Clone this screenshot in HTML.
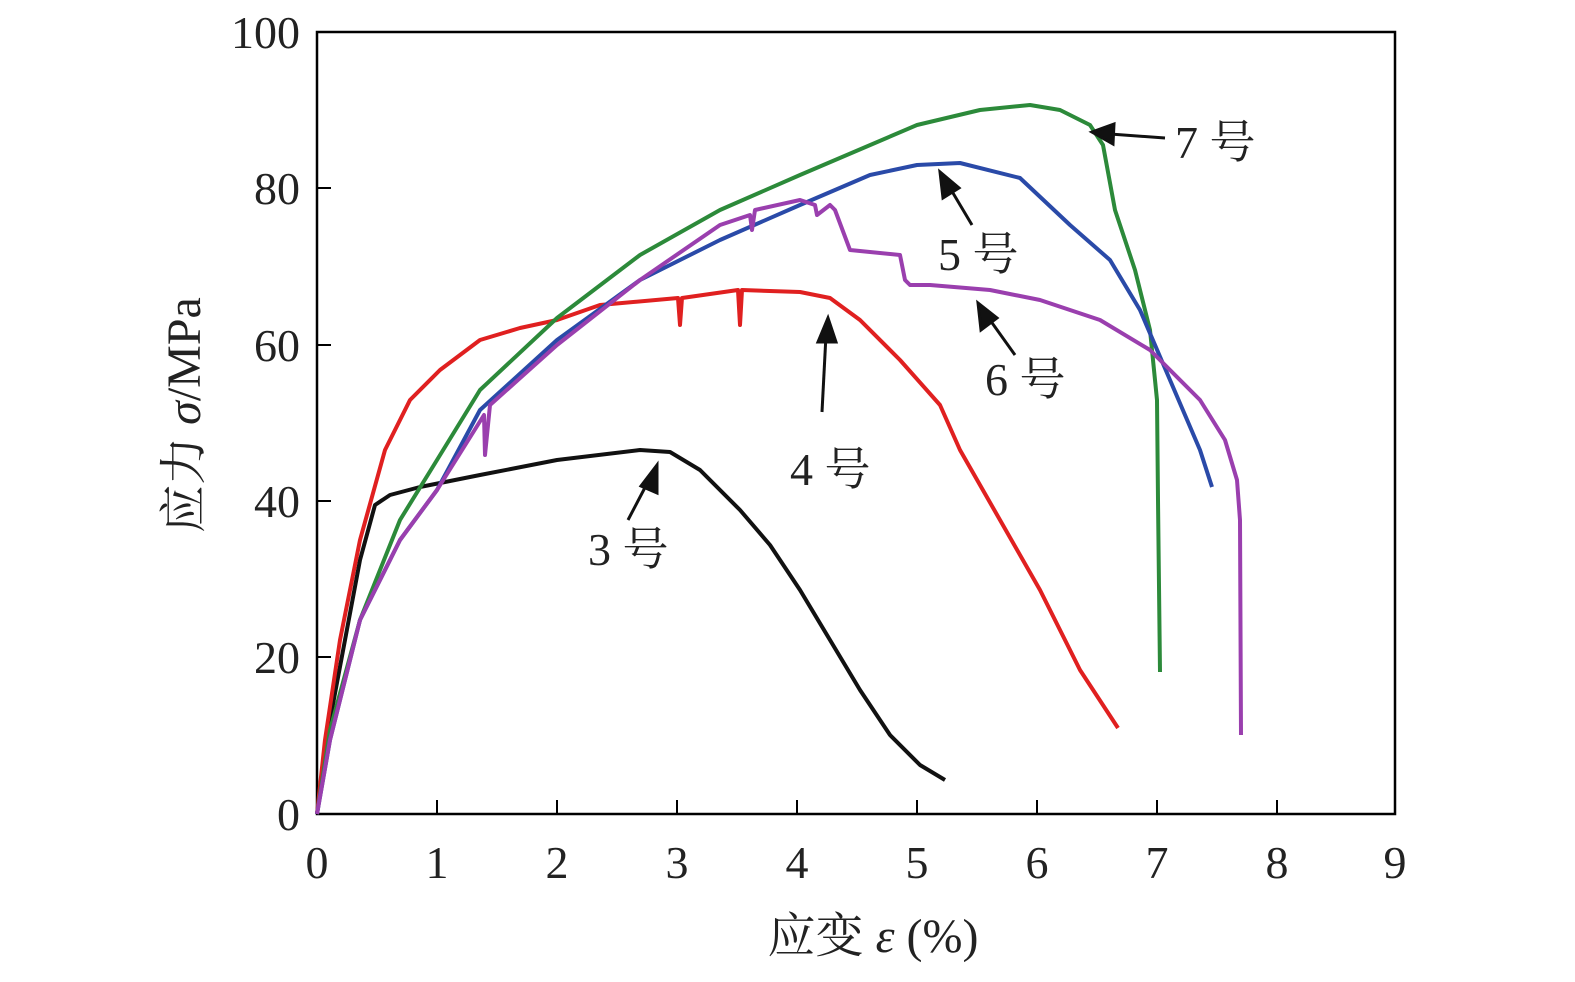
<!DOCTYPE html>
<html><head><meta charset="utf-8"><style>body{margin:0;background:#fff}</style></head><body>
<svg width="1575" height="977" xmlns="http://www.w3.org/2000/svg" font-family="'Liberation Serif','Noto Serif CJK SC',serif">
<rect x="317" y="32" width="1078" height="782" fill="none" stroke="#000" stroke-width="2.5"/>
<g stroke="#000" stroke-width="2">
<path d="M437,814v-14M557,814v-14M677,814v-14M797,814v-14M917,814v-14M1037,814v-14M1157,814v-14M1277,814v-14"/>
<path d="M317,657h14M317,501h14M317,345h14M317,188h14"/>
</g>
<g font-size="46" text-anchor="middle" fill="#222">
<text x="317" y="878">0</text><text x="437" y="878">1</text><text x="557" y="878">2</text><text x="677" y="878">3</text><text x="797" y="878">4</text><text x="917" y="878">5</text><text x="1037" y="878">6</text><text x="1157" y="878">7</text><text x="1277" y="878">8</text><text x="1395" y="878">9</text>
</g>
<g font-size="46" text-anchor="end" fill="#222">
<text x="300" y="830">0</text><text x="300" y="673">20</text><text x="300" y="517">40</text><text x="300" y="361">60</text><text x="300" y="204">80</text><text x="300" y="48">100</text>
</g>
<text x="873" y="952" font-size="48" text-anchor="middle" fill="#222">应变 <tspan font-style="italic">ε</tspan> (%)</text>
<text transform="translate(200,415) rotate(-90)" font-size="48" text-anchor="middle" fill="#222">应力 <tspan font-style="italic">σ</tspan>/MPa</text>
<g fill="none" stroke-width="4" stroke-linejoin="round">
<polyline stroke="#111" points="317,814 330,720 345,640 360,560 375,505 390,495 420,487 480,475 557,460 640,450 670,452 700,470 740,510 770,545 800,590 830,640 860,690 890,735 920,765 945,780"/>
<polyline stroke="#e02020" points="317,814 325,740 340,640 360,540 385,450 410,400 440,370 480,340 520,328 557,320 600,305 678,298 680,325 682,298 738,290 740,325 742,290 800,292 830,298 860,320 900,360 940,405 960,450 1000,520 1040,590 1080,670 1118,728"/>
<polyline stroke="#2c8a3a" points="317,814 330,730 360,620 400,520 437,460 480,390 557,318 640,255 720,210 800,175 917,125 980,110 1030,105 1060,110 1090,125 1103,145 1115,210 1135,270 1150,330 1157,400 1158,500 1160,672"/>
<polyline stroke="#2a4aa8" points="317,814 330,740 360,620 400,540 437,490 480,410 557,340 640,280 720,240 800,205 870,175 917,165 960,163 1020,178 1070,225 1110,260 1140,310 1170,380 1200,450 1212,487"/>
<polyline stroke="#9a3fae" points="317,814 330,740 360,620 400,540 437,490 484,415 485,455 490,405 557,345 640,280 720,225 750,215 752,230 755,210 800,200 815,205 817,215 830,205 835,210 850,250 900,255 905,280 910,285 930,285 990,290 1040,300 1100,320 1150,350 1200,400 1225,440 1237,480 1240,520 1241,735"/>
</g>
<g stroke="#111" stroke-width="3" fill="#111">
<line x1="628" y1="520" x2="650" y2="478"/><polygon points="657,465 641,486 657,493"/>
<line x1="822" y1="412" x2="826" y2="335"/><polygon points="828,318 818,342 836,342"/>
<line x1="972" y1="225" x2="950" y2="188"/><polygon points="940,172 943,198 959,188"/>
<line x1="1015" y1="355" x2="990" y2="320"/><polygon points="978,303 981,330 997,318"/>
<line x1="1165" y1="138" x2="1110" y2="134"/><polygon points="1092,132 1114,124 1113,144"/>
</g>
<g font-size="46" fill="#222">
<text x="588" y="565">3 号</text><text x="790" y="485">4 号</text><text x="938" y="270">5 号</text><text x="985" y="395">6 号</text><text x="1175" y="158">7 号</text>
</g>
</svg>
</body></html>
